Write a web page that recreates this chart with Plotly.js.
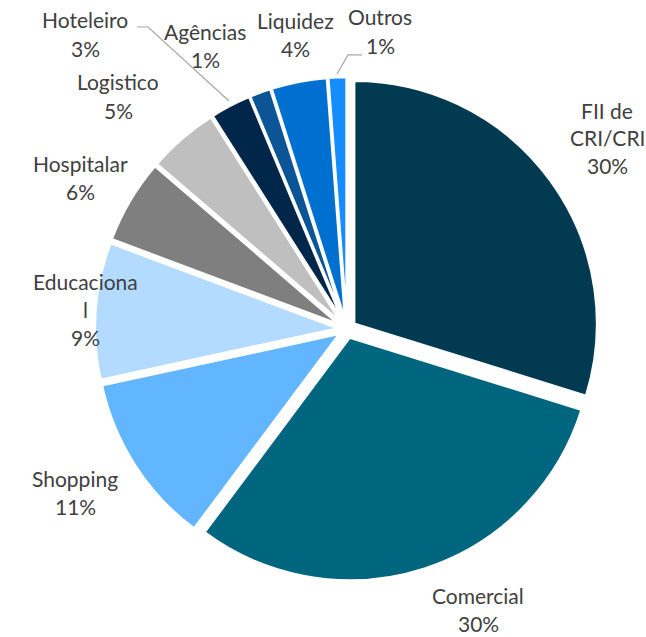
<!DOCTYPE html>
<html>
<head>
<meta charset="utf-8">
<script src="https://cdn.plot.ly/plotly-3.0.1.min.js"></script>
<style>html,body{margin:0;padding:0;background:#fff;}#chart{width:646px;height:637px;}</style>
</head>
<body>
<div id="chart"></div>
<script>
// ---- data ----
const categories = ['FII de CRI/CRI','Comercial','Shopping','Educacional','Hospitalar','Logistico','Hoteleiro','Agências','Liquidez','Outros'];
const displayNames = ['FII de<br>CRI/CRI','Comercial','Shopping','Educaciona<br>l','Hospitalar','Logistico','Hoteleiro','Agências','Liquidez','Outros'];
const shares = [29.8, 30.4, 11.4, 9.1, 5.6, 4.7, 2.7, 1.4, 3.7, 1.2];
const sliceColors = ['#023a52','#006680','#61b6ff','#b2dbff','#7f7f7f','#bfbfbf','#00274a','#0b5597','#0070d0','#158cff'];

// ---- layout of labels (pixel positions, layout only) ----
const W = 646, H = 637;
const labelCenters = [
  [607, 110], [478, 595], [75, 478], [85, 281], [80, 163],
  [118, 82], [85, 20], [205, 32], [295, 21], [380, 17]
];
const lineGap = 28;

const total = shares.reduce((a, b) => a + b, 0);
const annotations = [];
categories.forEach((c, i) => {
  const lines = displayNames[i].split('<br>');
  lines.push(Math.round(shares[i] / total * 100) + '%');
  lines.forEach((t, k) => {
    annotations.push({
      text: t, showarrow: false, xref: 'paper', yref: 'paper',
      x: labelCenters[i][0] / W, y: 1 - (labelCenters[i][1] + k * lineGap) / H,
      xanchor: 'center', yanchor: 'middle', borderpad: 0,
      font: {family: 'Lato, "Open Sans", sans-serif', size: 21, color: '#404040'}
    });
  });
});

function px(x, y) { return (x / W).toFixed(4) + ',' + (1 - y / H).toFixed(4); }
const shapes = [
  {type: 'path', xref: 'paper', yref: 'paper', path: 'M' + px(137, 27) + ' L' + px(148, 27) + ' L' + px(229, 101),
   line: {color: '#a6a6a6', width: 1.2}},
  {type: 'path', xref: 'paper', yref: 'paper', path: 'M' + px(362, 55) + ' L' + px(348, 55) + ' L' + px(337, 74),
   line: {color: '#a6a6a6', width: 1.2}}
];

const trace = {
  type: 'pie',
  labels: categories,
  values: shares,
  sort: false,
  direction: 'clockwise',
  rotation: 0,
  pull: 0.037,
  textinfo: 'none',
  hoverinfo: 'label+percent',
  marker: {colors: sliceColors, line: {color: '#ffffff', width: 2.5}},
  domain: {x: [0.147, 0.927], y: [0.0879, 0.8791]}
};

Plotly.newPlot('chart', [trace], {
  width: W, height: H,
  margin: {l: 0, r: 0, t: 0, b: 0},
  paper_bgcolor: '#ffffff',
  showlegend: false,
  annotations: annotations,
  shapes: shapes
}, {displayModeBar: false, staticPlot: true});
</script>
</body>
</html>
